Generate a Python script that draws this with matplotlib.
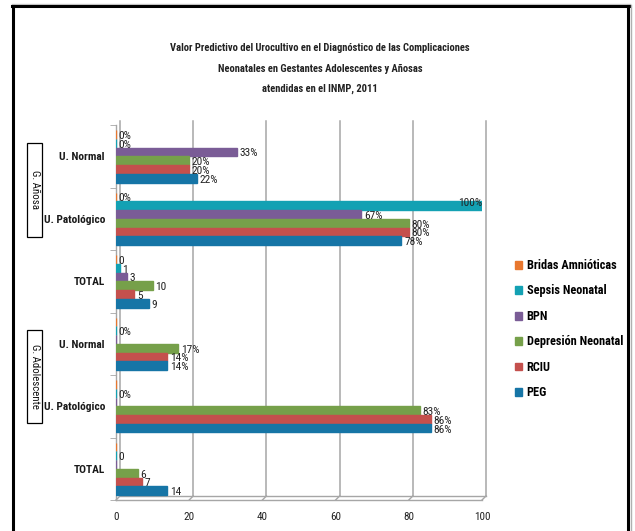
import matplotlib
matplotlib.use("Agg")
import matplotlib.pyplot as plt
from matplotlib import font_manager
from matplotlib.font_manager import FontProperties
from matplotlib.lines import Line2D
from matplotlib.patches import Rectangle
from matplotlib.transforms import ScaledTranslation
import numpy as np

# ---------------- data ----------------
categories = ['U. Normal', 'U. Patológico', 'TOTAL', 'U. Normal', 'U. Patológico', 'TOTAL']
groups = ['G. Añosa', 'G. Adolescente']
series_names = ['Bridas Amnióticas', 'Sepsis Neonatal', 'BPN', 'Depresión Neonatal', 'RCIU', 'PEG']

bridas = [0, 0, 0, 0, 0, 0]
sepsis = [0, 100, 1, 0, 0, 0]
bpn = [33, 67, 3, 0, 0, 0]
depresion = [20, 80, 10, 17, 83, 6]
rciu = [20, 80, 5, 14, 86, 7]
peg = [22, 78, 9, 14, 86, 14]

bridas_lbl = ['0%', '0%', '0', '', '', '']
sepsis_lbl = ['0%', '100%', '1', '0%', '0%', '0']
bpn_lbl = ['33%', '67%', '3', '', '', '']
depresion_lbl = ['20%', '80%', '10', '17%', '83%', '6']
rciu_lbl = ['20%', '80%', '5', '14%', '86%', '7']
peg_lbl = ['22%', '78%', '9', '14%', '86%', '14']

xticks = [0, 20, 40, 60, 80, 100]
title_lines = ['Valor Predictivo del Urocultivo en el Diagnóstico de las Complicaciones',
               'Neonatales en Gestantes Adolescentes y Añosas',
               'atendidas en el INMP, 2011']

colors = ['#E8772E', '#13A1B3', '#7A5C96', '#76A04A', '#C4504D', '#1675A6']

# ---------------- fonts ----------------
def find_narrow(bold):
    best = None
    best_score = -1
    for f in font_manager.fontManager.ttflist:
        nm = f.name.lower()
        fn = f.fname.lower()
        narrow = ('narrow' in nm or 'condensed' in nm or 'narrow' in fn or 'condensed' in fn
                  or str(f.stretch) in ('condensed', 'semi-condensed', 'extra-condensed'))
        if not narrow or f.style != 'normal':
            continue
        w = f.weight
        try:
            w = int(w)
        except Exception:
            w = 700 if 'bold' in str(w) else 400
        if bold and w < 600:
            continue
        if not bold and w >= 600:
            continue
        if 'italic' in fn or 'oblique' in fn:
            continue
        score = 1
        if 'liberation' in nm:
            score = 5
        elif 'roboto' in nm:
            score = 4
        elif 'open sans' in nm:
            score = 3
        elif 'dejavu' in nm:
            score = 2
        if score > best_score:
            best, best_score = f.fname, score
    return best

reg_path = find_narrow(False)
bold_path = find_narrow(True)
scale = 1.0 if (reg_path and bold_path) else 0.84

def fp(size, bold=False):
    path = bold_path if bold else reg_path
    if reg_path and bold_path:
        return FontProperties(fname=path, size=size)
    return FontProperties(family='Liberation Sans', weight='bold' if bold else 'normal',
                          size=size * scale)

W, H = 635, 531
fig = plt.figure(figsize=(W / 100, H / 100), dpi=100)

def fx(px):
    return px / W

def fy(py):
    return 1 - py / H

# outer frame
fig.add_artist(Line2D([fx(12), fx(630)], [fy(3.5), fy(3.5)], color='#c8c8c8', lw=1))
fig.add_artist(Line2D([fx(12), fx(629)], [fy(6), fy(6)], color='black', lw=2.2))
fig.add_artist(Line2D([fx(13), fx(13)], [fy(6), fy(531)], color='black', lw=2.2))
fig.add_artist(Line2D([fx(628), fx(628)], [fy(6), fy(531)], color='black', lw=2.2))
fig.add_artist(Line2D([fx(631), fx(631)], [fy(5), fy(531)], color='#b0b0b0', lw=1))

# title
for t, yy in zip(title_lines, [48, 69, 89]):
    fig.text(fx(320), fy(yy), t, ha='center', va='center',
             fontproperties=fp(7.6, True), color='#222222')

# axes
ax_l, ax_r, ax_t, ax_b = 116, 482, 125, 500
ax = fig.add_axes([fx(ax_l), fy(ax_b), fx(ax_r - ax_l), (ax_b - ax_t) / H])
ax.set_xlim(0, 100)
ax.set_ylim(len(categories) - 0.5, -0.5)

series = [bridas, sepsis, bpn, depresion, rciu, peg]
labels = [bridas_lbl, sepsis_lbl, bpn_lbl, depresion_lbl, rciu_lbl, peg_lbl]
n = len(series)
h = 0.14
y = np.arange(len(categories))

# back wall gridlines (3D offset)
off = ScaledTranslation(4 / 100, 4 / 100, fig.dpi_scale_trans)
for xt in xticks:
    ax.plot([xt, xt], [0, 1], transform=ax.get_xaxis_transform() + off,
            color='#a6a6a6', lw=1.1, clip_on=False, zorder=0)
    ax.plot([xt, xt + 4 / 3.66], [0, 4 / 375], transform=ax.get_xaxis_transform(),
            color='#a6a6a6', lw=1.0, clip_on=False, zorder=0)
ax.plot([0, 100], [0, 0], transform=ax.get_xaxis_transform() + off,
        color='#a6a6a6', lw=1.0, clip_on=False, zorder=0)

for j, (vals, lbls, c, name) in enumerate(zip(series, labels, colors, series_names)):
    pos = y + (j - (n - 1) / 2) * h
    ax.barh(pos, vals, height=h, color=c, edgecolor=c, linewidth=1.0,
            label=name, zorder=3)
    for p, v, t in zip(pos, vals, lbls):
        if not t:
            continue
        if v >= 95:
            ax.annotate(t, (v, p), xytext=(0, 2), textcoords='offset points',
                        ha='right', va='center', fontproperties=fp(8.2),
                        color='#222222', zorder=4)
        else:
            ax.annotate(t, (v, p), xytext=(2, -1), textcoords='offset points',
                        ha='left', va='center', fontproperties=fp(8.2),
                        color='#222222', zorder=4)

for s in ['top', 'right']:
    ax.spines[s].set_visible(False)
for s in ['left', 'bottom']:
    ax.spines[s].set_color('#a6a6a6')
    ax.spines[s].set_linewidth(1.0)
ax.set_facecolor('none')

ax.set_yticks(y)
ax.set_yticklabels(categories, color='#1a1a1a')
for lbl in ax.get_yticklabels():
    lbl.set_fontproperties(fp(8.2, True))
ax.set_yticks(np.arange(-0.5, len(categories), 1), minor=True)
ax.tick_params(axis='y', which='major', length=0, pad=8)
ax.tick_params(axis='y', which='minor', length=4, color='#a6a6a6')
ax.set_xticks(xticks)
ax.tick_params(axis='x', length=0, pad=9, labelcolor='#222222')
for lbl in ax.get_xticklabels():
    lbl.set_fontproperties(fp(8.0))

# group boxes
for g, (top, bot) in zip(groups, [(143, 237), (330, 423)]):
    fig.add_artist(Rectangle((fx(27), fy(bot)), fx(15), (bot - top) / H,
                             facecolor='white', edgecolor='black', lw=0.9, zorder=0.5))
    fig.text(fx(34.5), fy((top + bot) / 2), g, rotation=270, ha='center', va='center',
             fontproperties=fp(7.8), color='#111111')

# legend
handles = [Rectangle((0, 0), 1, 1, color=c) for c in colors]
leg = fig.legend(handles, series_names, loc='upper left',
                 bbox_to_anchor=(fx(515), fy(259)), frameon=False,
                 borderpad=0, borderaxespad=0, handlelength=0.6, handleheight=0.6,
                 handletextpad=0.35, labelspacing=1.02,
                 prop=fp(8.8, True))

fig.savefig('out.png', dpi=100)
